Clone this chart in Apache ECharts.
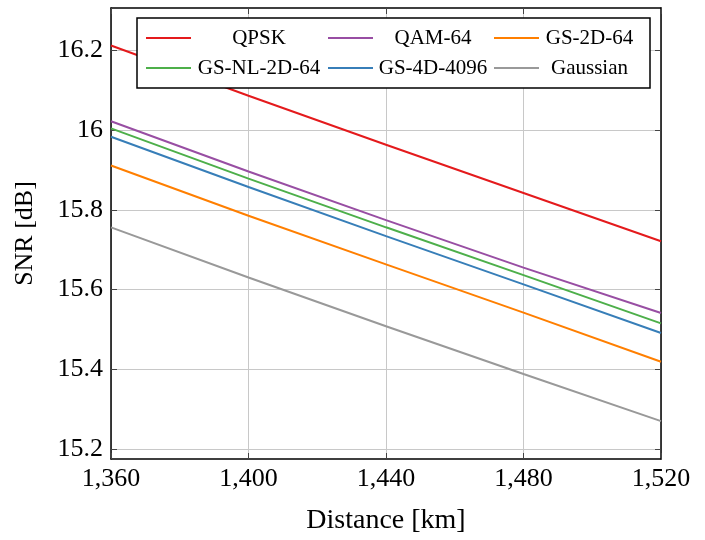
<!DOCTYPE html>
<html>
<head>
<meta charset="utf-8">
<script src="https://cdn.jsdelivr.net/npm/echarts@6/dist/echarts.min.js"></script>
<style>
html,body{margin:0;padding:0;background:#fff;}
#chart{width:705px;height:540px;}
</style>
</head>
<body>
<div id="chart"></div>
<script>
var distances = [1360, 1400, 1440, 1480, 1520];
var qpsk      = [16.212, 16.086, 15.963, 15.842, 15.721];
var qam64     = [16.022, 15.896, 15.774, 15.655, 15.541];
var gsNl2d64  = [16.004, 15.878, 15.756, 15.636, 15.515];
var gs4d4096  = [15.983, 15.857, 15.734, 15.613, 15.491];
var gs2d64    = [15.911, 15.785, 15.663, 15.542, 15.419];
var gaussian  = [15.756, 15.630, 15.508, 15.388, 15.270];
var yTicks = [15.2, 15.4, 15.6, 15.8, 16, 16.2];
var xTicks = [1360, 1400, 1440, 1480, 1520];

var seriesNames = ['QPSK', 'QAM-64', 'GS-2D-64', 'GS-NL-2D-64', 'GS-4D-4096', 'Gaussian'];
var seriesData = [qpsk, qam64, gs2d64, gsNl2d64, gs4d4096, gaussian];
var colors = ['#e41a1c', '#984ea3', '#ff7f00', '#4daf4a', '#377eb8', '#999999'];
var colWidths = [126, 110, 91];

var FONT = '"Liberation Serif", "Times New Roman", serif';

function pairs(arr) {
  return distances.map(function (d, i) { return [d, arr[i]]; });
}
function fmtComma(v) {
  var s = String(Math.round(v));
  return s.replace(/\B(?=(\d{3})+(?!\d))/g, ',');
}

var chart = echarts.init(document.getElementById('chart'), null, {renderer: 'canvas'});

var axisLineStyle = {show: true, onZero: false, lineStyle: {color: '#000', width: 1.5}};
var tickStyle = {show: true, inside: true, length: 6, lineStyle: {color: '#444', width: 1}};

var richStyles = {};
colWidths.forEach(function (w, i) {
  richStyles['c' + i] = {width: w, align: 'center', fontFamily: FONT, fontSize: 21, color: '#000', lineHeight: 24, height: 24};
});

var option = {
  animation: false,
  backgroundColor: '#fff',
  grid: {left: 111, right: 44, top: 8, bottom: 74, containLabel: false},
  legend: {
    left: 137, top: 18,
    width: 495,
    orient: 'horizontal',
    padding: [8, 15, 8, 9],
    itemGap: 6,
    itemWidth: 45,
    itemHeight: 2,
    icon: 'rect',
    itemStyle: {borderWidth: 0},
    borderColor: '#000',
    borderWidth: 1.5,
    backgroundColor: '#fff',
    data: seriesNames,
    formatter: function (name) {
      var idx = seriesNames.indexOf(name);
      return '{c' + (idx % 3) + '|' + name + '}';
    },
    textStyle: {fontFamily: FONT, fontSize: 21, color: '#000', rich: richStyles}
  },
  xAxis: [{
    type: 'value', min: 1360, max: 1520, interval: 40,
    name: 'Distance [km]', nameLocation: 'middle', nameGap: 48,
    nameTextStyle: {fontFamily: FONT, fontSize: 28, color: '#000'},
    axisLine: axisLineStyle, axisTick: tickStyle,
    axisLabel: {fontFamily: FONT, fontSize: 26, color: '#000', margin: 7, formatter: fmtComma,
      customValues: xTicks},
    splitLine: {show: true, lineStyle: {color: '#c8c8c8', width: 1}}
  }, {
    type: 'value', position: 'top', min: 1360, max: 1520, interval: 40,
    axisLine: axisLineStyle, axisTick: tickStyle,
    axisLabel: {show: false}, splitLine: {show: false}
  }],
  yAxis: [{
    type: 'value', min: 15.175, max: 16.306,
    name: 'SNR [dB]', nameLocation: 'middle', nameGap: 73, nameRotate: 90,
    nameTextStyle: {fontFamily: FONT, fontSize: 26, color: '#000'},
    axisLine: axisLineStyle,
    axisTick: {show: true, inside: true, length: 6, lineStyle: {color: '#444', width: 1}, customValues: yTicks},
    axisLabel: {fontFamily: FONT, fontSize: 26, color: '#000', margin: 8, customValues: yTicks,
      formatter: function (v) { return String(Math.round(v * 10) / 10); }},
    splitLine: {show: true, lineStyle: {color: '#c8c8c8', width: 1}}
  }, {
    type: 'value', position: 'right', min: 15.175, max: 16.306,
    axisLine: axisLineStyle,
    axisTick: {show: true, inside: true, length: 6, lineStyle: {color: '#444', width: 1}, customValues: yTicks},
    axisLabel: {show: false, customValues: yTicks}, splitLine: {show: false}
  }],
  series: seriesNames.map(function (n, i) {
    return {
      name: n, type: 'line', xAxisIndex: 0, yAxisIndex: 0,
      data: pairs(seriesData[i]),
      showSymbol: false, symbol: 'none',
      color: colors[i],
      lineStyle: {color: colors[i], width: 2},
      itemStyle: {color: colors[i]},
      z: 3
    };
  })
};
chart.setOption(option);
</script>
</body>
</html>
